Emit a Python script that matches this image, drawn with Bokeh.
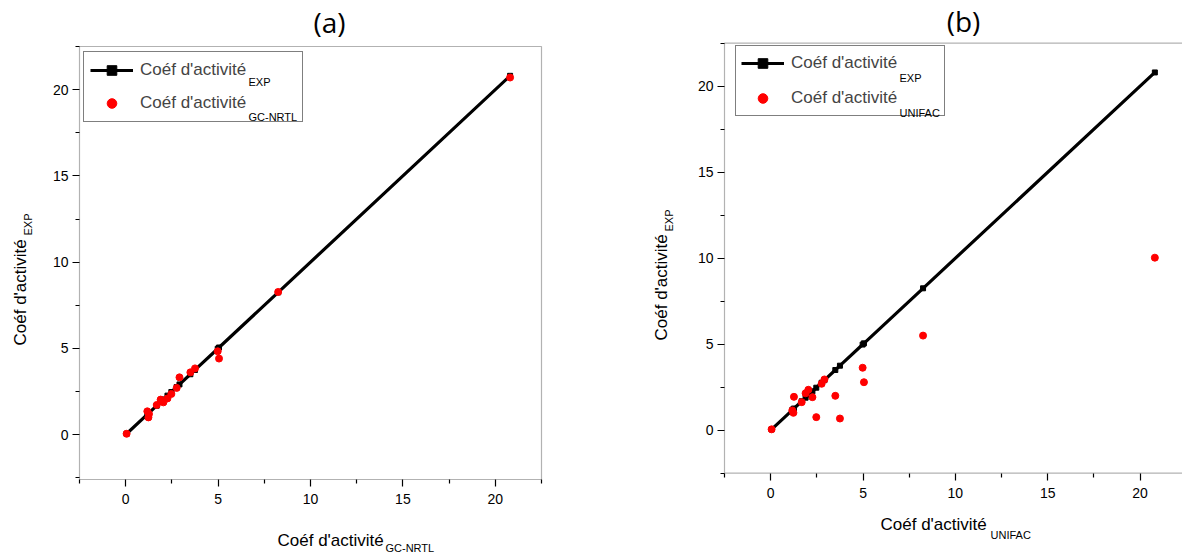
import math
from bokeh.plotting import figure
from bokeh.layouts import row
from bokeh.models import (FixedTicker, Label, Legend, LegendItem, Range1d,
                          BoxAnnotation)
from bokeh.embed import file_html
from bokeh.resources import INLINE

# ---------------- data ----------------
exp_vals = [0.05, 1.17, 1.23, 1.26, 1.68, 1.89, 2.04, 2.26, 2.47, 2.76, 2.91,
            3.50, 3.75, 4.98, 5.05, 8.25, 20.80]
gcnrtl_vals = [0.05, 1.35, 1.00, 1.20, 1.72, 2.03, 1.87, 2.10, 2.36, 2.71, 3.32,
               3.61, 3.84, 4.83, 4.41, 8.27, 20.70]
unifac_vals = [0.05, 1.15, 1.01, 1.94, 1.63, 2.15, 2.35, 1.92, 0.76, 2.70, 2.95,
               2.00, 0.68, 3.63, 2.79, 5.50, 10.03]
major_ticks = [0, 5, 10, 15, 20]
minor_ticks = [-2.5, 2.5, 7.5, 12.5, 17.5, 22.5]
axis_lo, axis_hi = -2.5, 22.5
main_label = "Coéf d'activité"
sub_exp = "EXP"
sub_a = "GC-NRTL"
sub_b = "UNIFAC"
titles = ["(a)", "(b)"]

FONT = "'Liberation Sans', Arial, sans-serif"
TFONT = "'Open Sans', sans-serif"
BASE_SHIFT = 0.38  # measured drop of a Label's text below its anchor, in em


def make_panel(model_vals, sub_model, title, W, H, px0, sx, pyt, sy, ybot,
               legend_px, legend_lw, legend_pad, legend_spacing,
               sub_exp_pos, sub_mod_pos, xlab, ylab, title_pos):
    # the frame covers the whole canvas; axes are pinned at fixed data locations
    xr = (axis_lo - px0 / sx, axis_lo + (W - px0) / sx)
    yr = (axis_hi - (H - pyt) / sy, axis_hi + pyt / sy)
    X = lambda px: axis_lo + (px - px0) / sx
    Y = lambda py: axis_hi - (py - pyt) / sy

    p = figure(width=W, height=H, output_backend="svg", toolbar_location=None,
               x_range=Range1d(*xr), y_range=Range1d(*yr), min_border=0,
               background_fill_color="white", border_fill_color="white")
    p.title.visible = False
    p.outline_line_color = None
    p.xgrid.visible = False
    p.ygrid.visible = False
    p.xaxis.fixed_location = ybot
    p.yaxis.fixed_location = axis_lo
    for ax in (p.xaxis[0], p.yaxis[0]):
        ax.ticker = FixedTicker(ticks=major_ticks, minor_ticks=minor_ticks)
        ax.axis_line_color = None
        ax.major_tick_line_color = "black"
        ax.minor_tick_line_color = "black"
        ax.major_tick_line_width = 1.2
        ax.minor_tick_line_width = 1.2
        ax.major_tick_out = 7
        ax.major_tick_in = 0
        ax.minor_tick_out = 4
        ax.minor_tick_in = 0
        ax.major_label_text_font = FONT
        ax.major_label_text_font_size = "14px"
        ax.major_label_text_color = "black"
    p.xaxis[0].major_label_standoff = 8
    p.yaxis[0].major_label_standoff = 4

    # plot frame (axis box)
    p.add_layout(BoxAnnotation(left=axis_lo, right=axis_hi, bottom=ybot, top=axis_hi,
                               fill_alpha=0, line_color="black", line_width=1.2,
                               level="underlay"))

    ln = p.line(exp_vals, exp_vals, line_width=3.2, line_color="black")
    sq = p.scatter(exp_vals, exp_vals, marker="square", size=5,
                   fill_color="black", line_color="black")
    pts = p.scatter(exp_vals, model_vals, marker="circle", size=7,
                    fill_color="red", line_color="red")

    lx, ltop, lbot = legend_px
    legend = Legend(items=[LegendItem(label=main_label, renderers=[ln, sq]),
                           LegendItem(label=main_label, renderers=[pts])],
                    location=(lx, H - lbot), orientation="vertical",
                    label_text_font=FONT, label_text_font_size="17px",
                    glyph_width=43, glyph_height=24, label_height=24,
                    label_width=legend_lw, label_standoff=7,
                    padding=legend_pad, spacing=legend_spacing, margin=0,
                    border_line_color="black", border_line_width=1.2,
                    background_fill_alpha=0)
    p.add_layout(legend)

    def lab(txt, px, py, size_px, angle=0.0, align="left", font=FONT):
        shift = BASE_SHIFT * size_px
        if angle == 0.0:
            py = py - shift
        else:
            px = px - shift
        p.add_layout(Label(x=X(px), y=Y(py), text=txt, text_font=font,
                           text_font_size=f"{size_px}px", text_align=align,
                           angle=angle, text_baseline="alphabetic",
                           text_color="black", level="overlay"))

    # subscripts in the legend
    lab(sub_exp, *sub_exp_pos, 11)
    lab(sub_model, *sub_mod_pos, 11)
    # x axis title
    (mx, my), (smx, smy) = xlab
    lab(main_label, mx, my, 17)
    lab(sub_model, smx, smy, 11)
    # y axis title (rotated)
    (mx, my), (smx, smy) = ylab
    lab(main_label, mx, my, 17, angle=math.pi / 2)
    lab(sub_exp, smx, smy, 11, angle=math.pi / 2)
    # panel title
    lab(title, *title_pos, 28, align="center", font=TFONT)
    return p


# panel (a): canvas x 0..600, axis box 79..541 x 46..479
pa = make_panel(gcnrtl_vals, sub_a, titles[0], 600, 556,
                79, 18.48, 46, 17.25, -2.6,
                (83, 53, 122), 156, 6, 9,
                (248, 86), (248, 121),
                ((277, 546), (385, 552)),
                ((26, 345), (32, 235)),
                (329, 32))

# panel (b): canvas x 600..1182, axis box 724..(1186) x 43..473
pb = make_panel(unifac_vals, sub_b, titles[1], 582, 556,
                124, 18.47, 42.7, 17.2, -2.5,
                (135, 47, 116), 148, 5, 11,
                (299, 82), (299, 117),
                ((280, 530), (390, 539)),
                ((67, 340), (73, 231)),
                (363, 31))

layout = row(pa, pb)
open("out.html", "w", encoding="utf-8").write(file_html(layout, INLINE))
